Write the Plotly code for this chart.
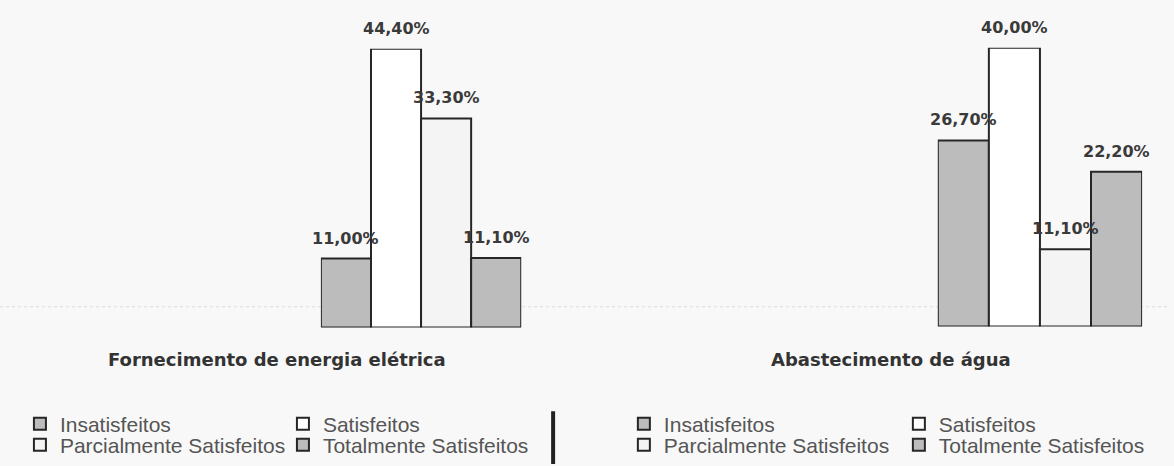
import plotly.graph_objects as go

categories = ["Insatisfeitos", "Satisfeitos", "Parcialmente Satisfeitos", "Totalmente Satisfeitos"]
energia_values = [11.00, 44.40, 33.30, 11.10]
agua_values = [26.70, 40.00, 11.10, 22.20]
panel_titles = ["Fornecimento de energia elétrica", "Abastecimento de água"]
fills = ["#bcbcbc", "#ffffff", "#f4f4f4", "#bcbcbc"]

W, H = 1174, 466
def px(x):
    return x / W
def py(y):
    return 1 - y / H

BG = "#f8f8f8"
fig = go.Figure()

panels = [
    dict(values=energia_values, xa="x", ya="y", legs=("legend", "legend2"), title_x=278),
    dict(values=agua_values, xa="x2", ya="y2", legs=("legend3", "legend4"), title_x=894),
]

for p_i, p in enumerate(panels):
    for i, (cat, v) in enumerate(zip(categories, p["values"])):
        fig.add_trace(go.Bar(
            x=[i], y=[v], width=1, name=cat,
            marker=dict(color=fills[i], line=dict(color="#262626", width=2)),
            xaxis=p["xa"], yaxis=p["ya"],
            legend=p["legs"][0] if i < 2 else p["legs"][1],
            showlegend=True, hoverinfo="skip",
        ))
        fig.add_annotation(
            x=i, y=v, xref=p["xa"], yref=p["ya"],
            text=f"{v:.2f}".replace(".", ",") + "%",
            showarrow=False, yanchor="bottom", yshift=9,
            font=dict(family="DejaVu Sans", size=16, color="#3a3a3a", weight="bold"),
        )
    fig.add_annotation(
        x=px(p["title_x"]), y=py(361), xref="paper", yref="paper",
        text=panel_titles[p_i], showarrow=False, xanchor="center", yanchor="middle",
        font=dict(family="DejaVu Sans", size=18, color="#333333", weight="bold"),
    )

axis_common = dict(visible=False, fixedrange=True)
fig.update_layout(
    width=W, height=H,
    margin=dict(l=0, r=0, t=0, b=0),
    paper_bgcolor=BG, plot_bgcolor="rgba(0,0,0,0)",
    barmode="overlay",
    xaxis=dict(domain=[px(322), px(523)], range=[-0.5, 3.5], **axis_common),
    yaxis=dict(domain=[py(329), py(49)], range=[0, max(energia_values)], **axis_common),
    xaxis2=dict(domain=[px(941), px(1146)], range=[-0.5, 3.5], anchor="y2", **axis_common),
    yaxis2=dict(domain=[py(328), py(48)], range=[0, max(agua_values)], anchor="x2", **axis_common),
    showlegend=True,
)

leg_common = dict(orientation="h", bgcolor="rgba(0,0,0,0)", borderwidth=0,
                  font=dict(family="Liberation Sans", size=21, color="#555555"),
                  xanchor="left", yanchor="middle", entrywidthmode="pixels",
                  itemclick=False, itemdoubleclick=False)
fig.update_layout(
    legend=dict(x=px(20), y=py(426), entrywidth=218, **leg_common),
    legend2=dict(x=px(20), y=py(447), entrywidth=218, **leg_common),
    legend3=dict(x=px(626), y=py(426), entrywidth=230, **leg_common),
    legend4=dict(x=px(626), y=py(447), entrywidth=230, **leg_common),
)

# faint scan line and dark vertical mark present in the reference
fig.add_shape(type="line", xref="paper", yref="paper", x0=0, x1=1, y0=py(308), y1=py(308),
              line=dict(color="#dcdcdc", width=1, dash="dot"), layer="below")
fig.add_shape(type="rect", xref="paper", yref="paper", x0=px(553), x1=px(557), y0=py(466), y1=py(413),
              fillcolor="#222222", line=dict(width=0))

fig.write_html("out.html")
